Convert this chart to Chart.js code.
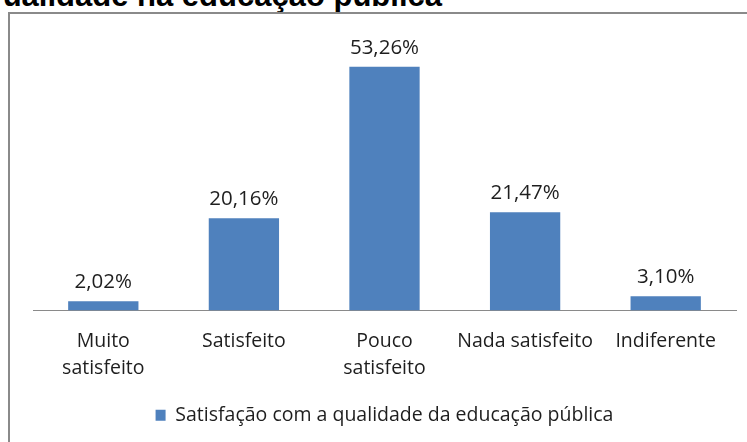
<!DOCTYPE html>
<html>
<head>
<meta charset="utf-8">
<script src="https://cdn.jsdelivr.net/npm/chart.js@4"></script>
<style>
  html, body { margin: 0; padding: 0; background: #fff; overflow: hidden; }
  #page { position: relative; width: 747px; height: 442px; overflow: hidden; }
  #titulo {
    position: absolute; right: 305px; top: -20px;
    font: bold 31px "Liberation Sans", Arial, sans-serif; line-height: 31px;
    white-space: nowrap; color: #000;
  }
  #moldura {
    position: absolute; left: 8px; top: 12px; width: 800px; height: 500px;
    border: 2px solid #8a8a8a; box-sizing: border-box;
  }
  #grafico { position: absolute; left: 0; top: 0; }
</style>
</head>
<body>
<div id="page">
  <div id="titulo">ualidade na educação pública</div>
  <div id="moldura"></div>
  <canvas id="grafico" width="747" height="442"></canvas>
</div>
<script>
// Dados
const categorias = [['Muito', 'satisfeito'], 'Satisfeito', ['Pouco', 'satisfeito'], 'Nada satisfeito', 'Indiferente'];
const percentuais = [2.02, 20.16, 53.26, 21.47, 3.10];
const nomeSerie = 'Satisfação com a qualidade da educação pública';

const corTexto = '#1e1e1e';
const fonte = '"Open Sans", "Noto Sans", sans-serif';

// Rótulos de dados acima de cada barra (formato brasileiro)
const rotulosBarras = {
  id: 'rotulosBarras',
  afterDatasetsDraw(chart) {
    const ctx = chart.ctx;
    ctx.save();
    ctx.font = '20.5px ' + fonte;
    ctx.fillStyle = corTexto;
    ctx.textAlign = 'center';
    ctx.textBaseline = 'alphabetic';
    chart.getDatasetMeta(0).data.forEach((barra, i) => {
      const texto = percentuais[i].toFixed(2).replace('.', ',') + '%';
      ctx.fillText(texto, barra.x, barra.y - 13);
    });
    ctx.restore();
  }
};

new Chart(document.getElementById('grafico'), {
  type: 'bar',
  data: {
    labels: categorias,
    datasets: [{
      label: nomeSerie,
      data: percentuais,
      backgroundColor: '#4f81bd',
      borderWidth: 0,
      categoryPercentage: 1,
      barPercentage: 0.5
    }]
  },
  options: {
    responsive: false,
    animation: false,
    layout: { padding: { left: 33, right: 11, top: 36, bottom: 7 } },
    plugins: {
      tooltip: { enabled: false },
      legend: {
        position: 'bottom',
        labels: {
          boxWidth: 10, boxHeight: 11, padding: 10,
          color: corTexto,
          font: { family: fonte, size: 19.5 }
        }
      }
    },
    scales: {
      x: {
        grid: { display: false },
        border: { color: '#8a8a8a', width: 1 },
        ticks: {
          color: corTexto, padding: 9, maxRotation: 0, autoSkip: false,
          font: { family: fonte, size: 19.5, lineHeight: 1.4 }
        },
        afterFit(scale) { scale.height = 85; }
      },
      y: { display: false, min: 0, max: 60 }
    }
  },
  plugins: [rotulosBarras]
});
</script>
</body>
</html>
